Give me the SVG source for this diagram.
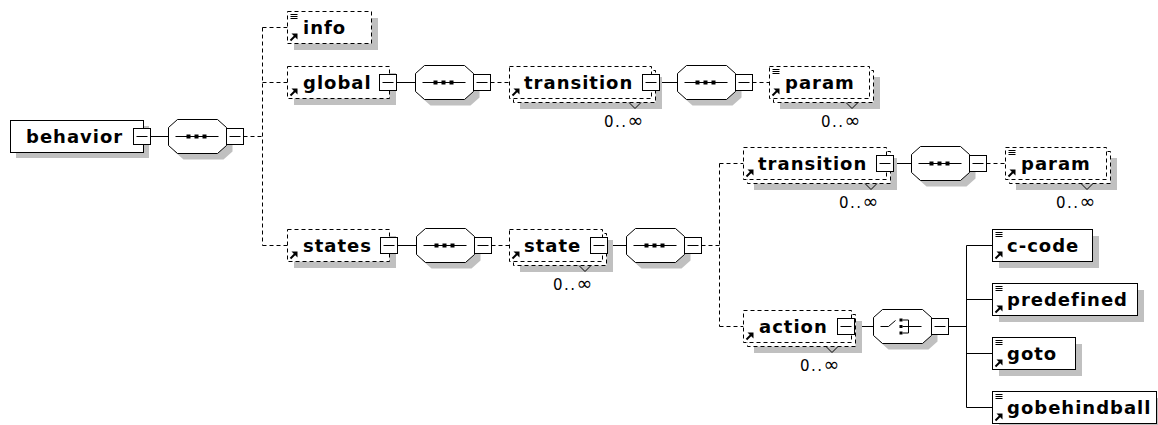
<svg xmlns="http://www.w3.org/2000/svg" xmlns:xlink="http://www.w3.org/1999/xlink" width="1158" height="425" viewBox="0 0 1158 425">
<style>
.sh{fill:#c0c0c0;stroke:none}
.bx{fill:#fff;stroke:#000;stroke-width:1}
.d{stroke-dasharray:4 3}
.t{font-family:"DejaVu Sans","Liberation Sans",sans-serif;font-weight:bold;font-size:18px;letter-spacing:1px;fill:#000}
.o{font-family:"DejaVu Sans","Liberation Sans",sans-serif;font-size:15px;letter-spacing:1.5px;fill:#000}
.inf{font-size:19px}
.ln{stroke:#000;stroke-width:1;fill:none}
</style>
<defs>
  <g id="minus"><rect class="bx" x="0" y="0" width="17" height="16"/><line class="ln" x1="3" y1="8" x2="14" y2="8"/></g>
  <path id="oct" d="M9,0H49L58,8V26L49,34H9L0,26V8Z"/>
  <g id="seq">
    <use href="#oct" class="sh" x="6" y="6"/>
    <use href="#oct" class="bx"/>
    <line class="ln" x1="7" y1="17" x2="50" y2="17"/>
    <rect x="18" y="15" width="4" height="4"/><rect x="26" y="15" width="4" height="4"/><rect x="34" y="15" width="4" height="4"/>
    <use href="#minus" x="58" y="9"/>
  </g>
  <g id="choice">
    <use href="#oct" class="sh" x="6" y="6"/>
    <use href="#oct" class="bx"/>
    <polyline class="ln" points="7,17 15,17 22,11"/>
    <rect x="26" y="9" width="3" height="3"/><rect x="26" y="15.5" width="3" height="3"/><rect x="26" y="22" width="3" height="3"/>
    <polyline class="ln" points="29,10.5 35,10.5 35,23.5 29,23.5"/>
    <line class="ln" x1="29" y1="17" x2="48" y2="17"/>
    <use href="#minus" x="58" y="9"/>
  </g>
  <g id="txt"><line class="ln" x1="3" y1="3" x2="10" y2="3"/><line class="ln" x1="3" y1="5" x2="10" y2="5"/><line class="ln" x1="3" y1="7" x2="10" y2="7"/></g>
  <g id="ref"><line x1="3" y1="-3" x2="8" y2="-8" stroke="#000" stroke-width="2"/><polygon points="10,-10 4,-10 10,-4" fill="#000"/></g>
</defs>
<rect width="1158" height="425" fill="#fff"/>

<g id="connectors">
  <path class="ln" d="M150.5,136.5H168.5M396.5,82.5H415.5M659.5,82.5H677.5M397.5,245.5H416.5M607.5,245.5H626.5M893.5,163.5H911.5M854.5,326.5H873.5M948.5,326.5H966.5M966.5,245.5V407.5M966.5,245.5H992.5M966.5,299.5H992.5M966.5,353.5H992.5M966.5,407.5H992.5"/>
  <path class="ln d" d="M243.5,136.5H262.5M262.5,27.5V245.5M262.5,27.5H287.5M262.5,82.5H287.5M262.5,245.5H287.5M490.5,82.5H509.5M752.5,82.5H769.5M491.5,245.5H509.5M701.5,245.5H719.5M719.5,163.5V326.5M719.5,163.5H743.5M719.5,326.5H743.5M986.5,163.5H1005.5"/>
</g>

<g id="behavior">
  <rect class="sh" x="16" y="126" width="133" height="32"/>
  <rect class="bx" x="10.5" y="120.5" width="133" height="32"/>
  <text class="t" x="26" y="143">behavior</text>
  <use href="#minus" x="133.5" y="128.5"/>
</g>
<g id="seq1"><use href="#seq" x="168.5" y="119.5"/></g>

<g id="info">
  <rect class="sh" x="294" y="18" width="84" height="32"/>
  <rect class="bx d" x="287.5" y="11.5" width="84" height="32"/>
  <use href="#txt" x="287.5" y="11.5"/><use href="#ref" x="287.5" y="43.5"/>
  <text class="t" x="303" y="34">info</text>
</g>

<g id="global">
  <rect class="sh" x="294" y="73" width="102" height="32"/>
  <rect class="bx d" x="287.5" y="66.5" width="102" height="32"/>
  <use href="#ref" x="287.5" y="98.5"/>
  <text class="t" x="303" y="89">global</text>
  <use href="#minus" x="379.5" y="74.5"/>
</g>
<g id="seq2"><use href="#seq" x="415.5" y="65.5"/></g>

<g id="transition1">
  <rect class="sh" x="520" y="77" width="142" height="32"/>
  <rect class="bx d" x="513.5" y="70.5" width="142" height="32"/>
  <rect class="bx d" x="509.5" y="66.5" width="142" height="32"/>
  <use href="#ref" x="509.5" y="98.5"/>
  <text class="t" x="524" y="89">transition</text>
  <use href="#minus" x="642.5" y="74.5"/>
  <polyline class="ln" points="629,102.5 635,108.5 641,102.5"/>
  <text class="o" x="604" y="127">0..<tspan class="inf">∞</tspan></text>
</g>
<g id="seq3"><use href="#seq" x="677.5" y="65.5"/></g>

<g id="param1">
  <rect class="sh" x="780" y="77" width="100" height="32"/>
  <rect class="bx d" x="773.5" y="70.5" width="100" height="32"/>
  <rect class="bx d" x="769.5" y="66.5" width="100" height="32"/>
  <use href="#txt" x="769.5" y="66.5"/><use href="#ref" x="769.5" y="98.5"/>
  <text class="t" x="785" y="89">param</text>
  <polyline class="ln" points="846,102.5 852,108.5 858,102.5"/>
  <text class="o" x="821" y="127">0..<tspan class="inf">∞</tspan></text>
</g>

<g id="states">
  <rect class="sh" x="294" y="236" width="102" height="32"/>
  <rect class="bx d" x="287.5" y="229.5" width="102" height="32"/>
  <use href="#ref" x="287.5" y="261.5"/>
  <text class="t" x="303" y="252">states</text>
  <use href="#minus" x="380.5" y="237.5"/>
</g>
<g id="seq4"><use href="#seq" x="416.5" y="228.5"/></g>

<g id="state">
  <rect class="sh" x="520" y="240" width="93" height="32"/>
  <rect class="bx d" x="513.5" y="233.5" width="93" height="32"/>
  <rect class="bx d" x="509.5" y="229.5" width="93" height="32"/>
  <use href="#ref" x="509.5" y="261.5"/>
  <text class="t" x="524" y="252">state</text>
  <use href="#minus" x="590.5" y="237.5"/>
  <polyline class="ln" points="579,265.5 585,271.5 591,265.5"/>
  <text class="o" x="553" y="290">0..<tspan class="inf">∞</tspan></text>
</g>
<g id="seq5"><use href="#seq" x="626.5" y="228.5"/></g>

<g id="transition2">
  <rect class="sh" x="754" y="158" width="143" height="32"/>
  <rect class="bx d" x="747.5" y="151.5" width="143" height="32"/>
  <rect class="bx d" x="743.5" y="147.5" width="143" height="32"/>
  <use href="#ref" x="743.5" y="179.5"/>
  <text class="t" x="758" y="170">transition</text>
  <use href="#minus" x="876.5" y="155.5"/>
  <polyline class="ln" points="865,183.5 871,189.5 877,183.5"/>
  <text class="o" x="839" y="208">0..<tspan class="inf">∞</tspan></text>
</g>
<g id="seq6"><use href="#seq" x="911.5" y="146.5"/></g>

<g id="param2">
  <rect class="sh" x="1016" y="158" width="101" height="32"/>
  <rect class="bx d" x="1009.5" y="151.5" width="101" height="32"/>
  <rect class="bx d" x="1005.5" y="147.5" width="101" height="32"/>
  <use href="#txt" x="1005.5" y="147.5"/><use href="#ref" x="1005.5" y="179.5"/>
  <text class="t" x="1021" y="170">param</text>
  <polyline class="ln" points="1081,183.5 1087,189.5 1093,183.5"/>
  <text class="o" x="1056" y="208">0..<tspan class="inf">∞</tspan></text>
</g>

<g id="action">
  <rect class="sh" x="754" y="321" width="108" height="32"/>
  <rect class="bx d" x="747.5" y="314.5" width="108" height="32"/>
  <rect class="bx d" x="743.5" y="310.5" width="108" height="32"/>
  <use href="#ref" x="743.5" y="342.5"/>
  <text class="t" x="759" y="333">action</text>
  <use href="#minus" x="837.5" y="318.5"/>
  <polyline class="ln" points="826,346.5 832,352.5 838,346.5"/>
  <text class="o" x="800" y="371">0..<tspan class="inf">∞</tspan></text>
</g>
<g id="choice1"><use href="#choice" x="873.5" y="309.5"/></g>

<g id="c-code">
  <rect class="sh" x="999" y="236" width="100" height="32"/>
  <rect class="bx" x="992.5" y="229.5" width="100" height="32"/>
  <use href="#txt" x="992.5" y="229.5"/><use href="#ref" x="992.5" y="261.5"/>
  <text class="t" x="1007" y="252">c-code</text>
</g>
<g id="predefined">
  <rect class="sh" x="999" y="290" width="145" height="32"/>
  <rect class="bx" x="992.5" y="283.5" width="145" height="32"/>
  <use href="#txt" x="992.5" y="283.5"/><use href="#ref" x="992.5" y="315.5"/>
  <text class="t" x="1007" y="306">predefined</text>
</g>
<g id="goto">
  <rect class="sh" x="999" y="344" width="83" height="32"/>
  <rect class="bx" x="992.5" y="337.5" width="83" height="32"/>
  <use href="#txt" x="992.5" y="337.5"/><use href="#ref" x="992.5" y="369.5"/>
  <text class="t" x="1007" y="360">goto</text>
</g>
<g id="gobehindball">
  <rect class="sh" x="999" y="398" width="164" height="32"/>
  <rect class="bx" x="992.5" y="391.5" width="164" height="32"/>
  <use href="#txt" x="992.5" y="391.5"/><use href="#ref" x="992.5" y="423.5"/>
  <text class="t" x="1007" y="414">gobehindball</text>
</g>
</svg>
